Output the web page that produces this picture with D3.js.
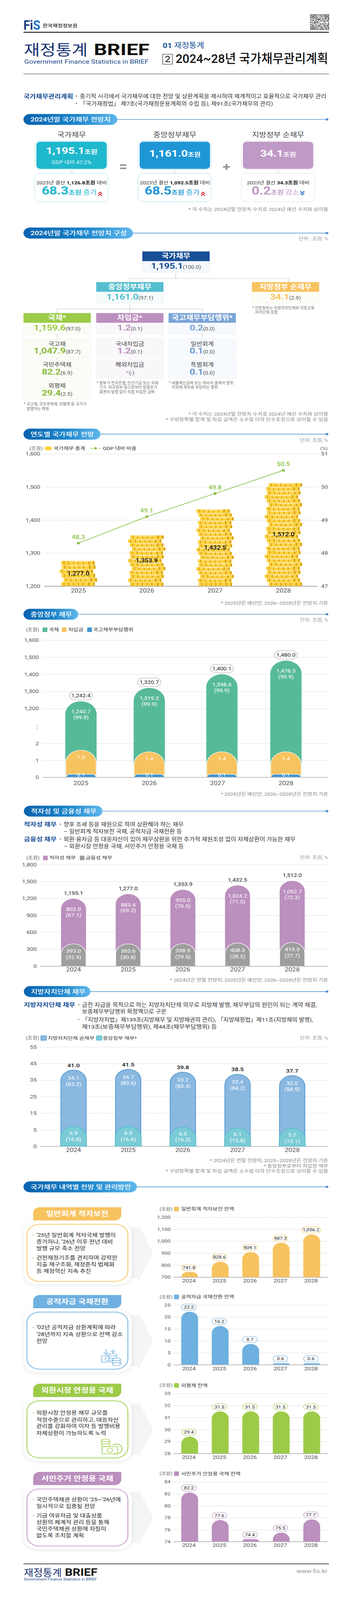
<!DOCTYPE html>
<html lang="ko">
<head>
<meta charset="utf-8">
<title>재정통계 BRIEF</title>
<script src="https://cdn.jsdelivr.net/npm/d3@7"></script>
<style>
  html, body { margin: 0; padding: 0; background: #fff; overflow: hidden; }
  svg { display: block; }
  text { font-family: Roboto, "Noto Sans CJK KR", sans-serif; }
  .card { filter: drop-shadow(0 3px 6px rgba(0,0,0,.09)); }
</style>
</head>
<body>
<svg id="page" width="900" height="4957" viewBox="0 0 900 4957" preserveAspectRatio="none"></svg>
<script>
// ---- data ----
var years5 = ["2024", "2025", "2026", "2027", "2028"];
var years4 = ["2025", "2026", "2027", "2028"];

var debtTotal = [1277.0, 1353.9, 1432.5, 1512.0];
var gdpRatio = [48.3, 49.1, 49.8, 50.5];

var centralTotal = [1242.4, 1320.7, 1400.1, 1480.0];
var centralBonds = [1240.7, 1319.2, 1398.6, 1478.5];
var centralBondShare = [99.9, 99.9, 99.9, 99.9];
var centralLoans = [1.5, 1.4, 1.4, 1.4];
var centralTreasury = [0.1, 0.1, 0.1, 0.1];

var natureTotal = [1195.1, 1277.0, 1353.9, 1432.5, 1512.0];
var deficitDebt = [802.0, 883.4, 955.0, 1024.2, 1092.7];
var deficitShare = [67.1, 69.2, 70.5, 71.5, 72.3];
var financialDebt = [393.0, 393.6, 398.9, 408.3, 419.3];
var financialShare = [32.9, 30.8, 29.5, 28.5, 27.7];

var localTotal = [41.0, 41.5, 39.8, 38.5, 37.7];
var localNet = [34.1, 34.7, 33.2, 32.4, 32.0];
var localNetShare = [83.2, 83.6, 83.4, 84.2, 84.9];
var localCentral = [6.9, 6.9, 6.5, 6.1, 5.7];
var localCentralShare = [16.8, 16.6, 16.3, 15.8, 15.1];

var deficitBalance = [741.8, 828.6, 909.1, 987.3, 1056.2];
var publicFundBalance = [22.2, 16.2, 8.7, 0.6, 0.6];
var fxBalance = [29.4, 31.5, 31.5, 31.5, 31.5];
var housingBalance = [82.2, 77.6, 74.4, 75.5, 77.7];

var debtTicks = [1200, 1300, 1400, 1500, 1600];
var ratioTicks = [47, 48, 49, 50, 51];
var centralTicks = [0, 1, 2, 1200, 1300, 1400, 1500, 1600];
var natureTicks = [0, 300, 600, 900, 1200, 1500, 1800];
var localTicks = [0, 5, 15, 25, 35, 45, 55];
var deficitTicks = [700, 800, 900, 1000, 1100, 1200];
var fundTicks = [0, 5, 10, 15, 20, 25];
var fxTicks = [28, 29, 30, 31, 32, 33];
var housingTicks = [74, 76, 78, 80, 82, 84];

var NAVY = "#174f97", YELLOW = "#f7c35f", SKY = "#6eb0e0", LIME = "#9ccb48", PURPLE = "#bb8fbe";
var fmt1 = d3.format(",.1f");

var svg = d3.select("#page");
// browsers can cap the window below the page height: keep the whole page inside it
svg.attr("height", Math.min(4957, window.innerHeight || 4957));
var defs = svg.append("defs");
var grad = defs.append("linearGradient").attr("id", "pillGrad");
grad.append("stop").attr("offset", "0").attr("stop-color", "#0a62ad");
grad.append("stop").attr("offset", "0.55").attr("stop-color", "#1a84cb");
grad.append("stop").attr("offset", "1").attr("stop-color", "#5fb8ec");

// squeeze a text to a measured width
function fit(el, x, len) {
  var k = len / el.node().getComputedTextLength();
  el.attr("transform", "translate(" + x + ",0) scale(" + k + ",1) translate(" + (-x) + ",0)");
  return el;
}

// text helper, y is the vertical middle of the line
function t(x, y, str, o) {
  o = o || {};
  var el = (o.to || svg).append("text")
    .attr("x", x).attr("y", y).attr("dy", "0.36em")
    .attr("font-size", o.size || 14)
    .attr("font-weight", o.weight || 400)
    .attr("fill", o.fill || "#333")
    .attr("text-anchor", o.anchor || "start")
    .text(str);
  if (o.len) fit(el, x, o.len);
  return el;
}

// mixed run of tspans
function rich(x, y, parts, anchor) {
  var el = svg.append("text").attr("x", x).attr("y", y).attr("dy", "0.36em")
    .attr("text-anchor", anchor || "middle");
  parts.forEach(function (p) {
    el.append("tspan").text(p.t)
      .attr("font-size", p.size).attr("font-weight", p.weight || 400)
      .attr("fill", p.fill || "#333")
      .attr("letter-spacing", p.spacing || null);
  });
  return el;
}

function section(x, top, w, label, textW) {
  var h = 34;
  svg.append("line").attr("x1", x + w - 4).attr("x2", 836).attr("y1", top + h / 2).attr("y2", top + h / 2)
    .attr("stroke", "#5d9bd2").attr("stroke-width", 2);
  svg.append("circle").attr("cx", 836).attr("cy", top + h / 2).attr("r", 3.5).attr("fill", "#4f8fcb");
  svg.append("rect").attr("x", x).attr("y", top).attr("width", w).attr("height", h)
    .attr("rx", 17).attr("fill", "url(#pillGrad)");
  t(x + 18, top + h / 2, label, { size: 18, fill: "#fff", weight: 500, len: textW });
}

function note(y, str) {
  t(839, y, str, { size: 13.5, fill: "#888", anchor: "end" });
}

function unit(y) {
  t(839, y, "단위: 조원, %", { size: 13.5, fill: "#999", anchor: "end" });
}

// rounded-top bar from d3.path
function arch(cx, w, top, bottom) {
  var r = Math.min(w / 2, bottom - top), x0 = cx - w / 2, x1 = cx + w / 2;
  var p = d3.path();
  p.moveTo(x0, bottom);
  p.lineTo(x0, top + r);
  p.arcTo(x0, top, x0 + r, top, r);
  p.lineTo(x1 - r, top);
  p.arcTo(x1, top, x1, top + r, r);
  p.lineTo(x1, bottom);
  p.closePath();
  return p.toString();
}

// left axis with the ticks running across as dotted grid lines, the base line solid
function yAxis(scale, ticks, x0, x1, size, pad, base) {
  var g = svg.append("g").attr("transform", "translate(" + x0 + ",0)")
    .call(d3.axisLeft(scale).tickValues(ticks).tickSize(-(x1 - x0)).tickPadding(pad).tickFormat(d3.format(",")));
  g.select(".domain").remove();
  g.selectAll(".tick line").attr("stroke", "#aaa").attr("stroke-dasharray", "1 1.5");
  g.selectAll(".tick text").attr("font-size", size).attr("fill", "#555");
  g.selectAll(".tick").filter(function (d) { return d === base; }).select("line")
    .attr("stroke", "#999").attr("stroke-dasharray", null).attr("stroke-width", 1.5);
  return g;
}

function xAxis(scale, y, size, pad) {
  var g = svg.append("g").attr("transform", "translate(0," + y + ")")
    .call(d3.axisBottom(scale).tickSize(0).tickPadding(pad));
  g.select(".domain").remove();
  g.selectAll(".tick text").attr("font-size", size).attr("fill", "#555");
}

function legendBox(x, y, w, fill, label, textX, stroke) {
  svg.append("rect").attr("x", x).attr("y", y - 7).attr("width", w).attr("height", 14)
    .attr("fill", fill).attr("stroke", stroke || "none").attr("stroke-width", stroke ? 1.5 : 0);
  t(textX, y, label, { size: 14 });
}

function valuePill(cx, cy, w, h, label, stroke, size) {
  svg.append("rect").attr("x", cx - w / 2).attr("y", cy - h / 2).attr("width", w).attr("height", h)
    .attr("rx", h / 2).attr("fill", "#fff").attr("stroke", stroke).attr("stroke-width", size > 14 ? 2 : 1.2);
  t(cx, cy, label, { size: size, anchor: "middle", fill: "#222" });
}

// ---- masthead ----
(function masthead() {
  var logo = t(60, 78, "", { size: 40, weight: 700 });
  logo.append("tspan").text("F").attr("fill", "#14387f");
  logo.append("tspan").text("i").attr("fill", "#14387f");
  logo.append("tspan").text("S").attr("fill", "#1b6fc0");
  fit(logo, 60, 43);
  t(109, 80, "한국재정정보원", { size: 14, weight: 500, fill: "#222", len: 89 });

  // small QR-like block
  var n = 31, s = 1.5, qx = 794.5, qy = 45.5;
  svg.append("rect").attr("x", qx - 1).attr("y", qy - 1).attr("width", 47).attr("height", 47)
    .attr("fill", "#fff").attr("stroke", "#555");
  function finder(i, j) { return i >= 0 && j >= 0 && i < 7 && j < 7; }
  d3.range(n).forEach(function (i) {
    d3.range(n).forEach(function (j) {
      var ci = i > n - 8 ? i - (n - 7) : i, cj = j > n - 8 ? j - (n - 7) : j;
      var on;
      if (finder(i, j) || finder(i - (n - 7), j) || finder(i, j - (n - 7))) {
        on = ci === 0 || ci === 6 || cj === 0 || cj === 6 || (ci > 1 && ci < 5 && cj > 1 && cj < 5);
      } else {
        on = ((i * i + j * 3 + (i ^ j)) % 5) < 2;
      }
      if (on) svg.append("rect").attr("x", qx + 0.25 + i * s).attr("y", qy + 0.25 + j * s)
        .attr("width", s).attr("height", s).attr("fill", "#222");
    });
  });

  svg.append("line").attr("x1", 60).attr("x2", 841).attr("y1", 100).attr("y2", 100).attr("stroke", "#111").attr("stroke-width", 2.5);
  t(61, 154, "재정통계", { size: 46, fill: "#17326f", len: 163 });
  t(240, 153, "BRIEF", { size: 50, weight: 700, fill: "#111", len: 142 });
  t(62, 191, "Government Finance Statistics in BRIEF", { size: 17.5, fill: "#1c4a8c", len: 318 });

  fit(rich(416, 143, [
    { t: "01 ", size: 23, weight: 700, fill: NAVY },
    { t: "재정통계", size: 23, fill: NAVY }
  ], "start"), 416, 106);
  svg.append("rect").attr("x", 416).attr("y", 168).attr("width", 25).attr("height", 31)
    .attr("fill", "#fff").attr("stroke", "#222").attr("stroke-width", 1.2);
  t(428.5, 183.5, "2", { size: 26, anchor: "middle", fill: "#111" });
  t(449, 181, "2024~28년 국가채무관리계획", { size: 38, fill: "#111", weight: 500, len: 390 });
  svg.append("line").attr("x1", 60).attr("x2", 841).attr("y1", 229).attr("y2", 229).attr("stroke", "#333").attr("stroke-width", 1.2);

  t(60, 298, "국가채무관리계획", { size: 18, weight: 700, fill: NAVY, len: 127 });
  t(193, 298, "•", { size: 14 });
  t(204, 298, "중기적 시각에서 국가채무에 대한 전망 및 상환계획을 제시하여 체계적이고 효율적으로 국가채무 관리", { size: 16, len: 630 });
  t(193, 321, "•", { size: 14 });
  t(204, 321, "「국가재정법」 제7조(국가재정운용계획의 수립 등), 제91조(국가채무의 관리)", { size: 16, len: 494 });
})();

// ---- summary cards ----
var sumTitles = ["국가채무", "중앙정부채무", "지방정부 순채무"];
var sumValues = ["1,195.1", "1,161.0", "34.1"];
var sumPrev = ["1,126.8", "1,092.5", "34.3"];
var sumDelta = ["68.3", "68.5", "0.2"];
var sumWord = ["증가", "증가", "감소"];

section(60, 353, 240, "2024년말 국가채무 전망치", 205);

(function summary() {
  var xs = [93, 357, 621], cols = ["#1fb8cd", "#1e96d6", "#c09ac6"], mids = [177, 440, 704], chev = [256, 519, 773];
  sumTitles.forEach(function (name, i) {
    var x = xs[i], cx = x + 90;
    t(cx, 418, name, { size: 20, anchor: "middle", fill: "#444" });
    svg.append("rect").attr("x", x - 4).attr("y", 436).attr("width", 187).attr("height", 89).attr("rx", 12)
      .attr("fill", "none").attr("stroke", cols[i]).attr("stroke-dasharray", "1 1.5");
    svg.append("rect").attr("x", x).attr("y", 439).attr("width", 180).attr("height", 84).attr("rx", 10).attr("fill", cols[i]);
    rich(cx, i === 0 ? 471 : 480, [
      { t: sumValues[i], size: 30, weight: 700, fill: "#fff", spacing: "-0.5" },
      { t: "조원", size: 18, weight: 700, fill: "#fff" }
    ]);
    if (i === 0) t(cx, 503, "GDP 대비 47.2%", { size: 14.5, anchor: "middle", fill: "#e3f6f8" });
    svg.append("rect").attr("x", cx - 4).attr("y", 525).attr("width", 8).attr("height", 12).attr("fill", "#f1f4f8");
    svg.append("rect").attr("x", x - 4).attr("y", 537).attr("width", 187).attr("height", 88).attr("rx", 12)
      .attr("fill", "#fff").attr("stroke", cols[i]).attr("stroke-dasharray", "1 1.5");
    rich(cx, 565, [
      { t: "2023년 결산 ", size: 14 },
      { t: sumPrev[i] + "조원", size: 14, weight: 700, fill: "#111" },
      { t: " 대비", size: 14 }
    ]);
    rich(mids[i], 597, [
      { t: sumDelta[i], size: 35, weight: 700, fill: cols[i], spacing: "-0.5" },
      { t: "조원 ", size: 18, weight: 700, fill: cols[i] },
      { t: sumWord[i], size: 19, fill: cols[i] }
    ]);
    var up = sumWord[i] === "증가", cy = 599;
    [-4.5, 1.5].forEach(function (dy) {
      var p = d3.path(), dir = up ? -1 : 1, y = cy + dy + (up ? 4 : 0);
      p.moveTo(chev[i] - 5, y - dir * 2);
      p.lineTo(chev[i], y + dir * 3);
      p.lineTo(chev[i] + 5, y - dir * 2);
      svg.append("path").attr("d", p.toString()).attr("fill", "none")
        .attr("stroke", up ? "#d0303a" : "#2a6fc0").attr("stroke-width", 2.6);
    });
  });
  // = and +
  svg.append("rect").attr("x", 307).attr("y", 509).attr("width", 16).attr("height", 5).attr("fill", "#999");
  svg.append("rect").attr("x", 307).attr("y", 519).attr("width", 16).attr("height", 5).attr("fill", "#999");
  svg.append("rect").attr("x", 570).attr("y", 514.5).attr("width", 18).attr("height", 5).attr("fill", "#999");
  svg.append("rect").attr("x", 576.5).attr("y", 508).attr("width", 5).attr("height", 18).attr("fill", "#999");
})();
note(649, "* 각 수치는 2024년말 전망치 수치로 2024년 예산 수치와 상이함");

// ---- composition tree ----
section(60, 705, 280, "2024년말 국가채무 전망치 구성", 246);
t(839, 739, "단위 : 조원, %", { size: 13.5, fill: "#999", anchor: "end" });

(function tree() {
  function link(pts) {
    svg.append("path").attr("d", d3.line()(pts)).attr("fill", "none").attr("stroke", "#d5d5d5").attr("stroke-width", 1.6);
  }
  link([[449.5, 845], [449.5, 863]]);
  link([[332, 874], [332, 863], [738, 863], [738, 874]]);
  link([[332, 940], [332, 970]]);
  link([[146, 970], [146, 957], [517, 957], [517, 970]]);
  link([[146, 1035], [146, 1180]]);
  link([[332, 1035], [332, 1115]]);
  link([[517, 1035], [517, 1115]]);

  function head(x, y, name, val, share, col, tint) {
    var w = 172;
    svg.append("rect").attr("x", x).attr("y", y + 29).attr("width", w).attr("height", 36)
      .attr("fill", tint).attr("stroke", "#ddd").attr("stroke-dasharray", "1 1.5");
    svg.append("rect").attr("x", x).attr("y", y).attr("width", w).attr("height", 30).attr("fill", col);
    t(x + w / 2, y + 14, name, { size: 20, weight: 700, fill: "#fff", anchor: "middle" });
    rich(x + w / 2, y + 48, [
      { t: val, size: 25, weight: 700, fill: col, spacing: "-0.5" },
      { t: "(" + share + ")", size: 14.5, fill: "#555" }
    ]);
  }
  function leaf(x, y, name, val, share, col, tint) {
    svg.append("rect").attr("x", x).attr("y", y).attr("width", 172).attr("height", 59)
      .attr("fill", tint).attr("stroke", "#ddd").attr("stroke-dasharray", "1 1.5");
    t(x + 86, y + 16, name, { size: 16, anchor: "middle", fill: "#444" });
    rich(x + 86, y + 41, [
      { t: val, size: 25, weight: 700, fill: col, spacing: "-0.5" },
      { t: "(" + share + ")", size: 14.5, fill: "#555" }
    ]);
  }

  head(364, 779, "국가채무", "1,195.1", "100.0", "#174f97", "#f5f8fc");
  head(246, 874, "중앙정부채무", "1,161.0", "97.1", "#55bece", "#f6fbfc");
  head(644, 874, "지방정부 순채무", "34.1", "2.9", "#f7c35f", "#fefcf6");
  head(60, 970, "국채*", "1,159.6", "97.0", "#9ccb48", "#fafcf5");
  head(246, 970, "차입금*", "1.2", "0.1", "#bb8fbe", "#faf7fb");
  head(431, 970, "국고채무부담행위*", "0.2", "0.0", "#7aa4d6", "#f6f9fd");

  var rows = [1049, 1114, 1179];
  ["국고채", "국민주택채", "외평채"].forEach(function (n, i) {
    leaf(60, rows[i], n, ["1,047.9", "82.2", "29.4"][i], ["87.7", "6.9", "2.5"][i], "#8dbb3f", "#fafcf5");
  });
  ["국내차입금", "해외차입금"].forEach(function (n, i) {
    leaf(246, rows[i], n, ["1.2", "-"][i], ["0.1", "-"][i], "#bb8fbe", "#faf7fb");
  });
  ["일반회계", "특별회계"].forEach(function (n, i) {
    leaf(431, rows[i], n, "0.1", "0.0", "#6f9ad0", "#f6f9fd");
  });

  function n(x, y, str, len) { t(x, y, str, { size: 12.5, fill: "#777", len: len }); }
  n(645, 954, "* 지방정부는 지방자치단체와 지방교육", 159);
  n(652, 967, "자치단체 포함", 58);
  n(247, 1186, "* 정부가 한국은행, 민간기금 또는 국제", 158);
  n(254, 1200, "기구, 외국정부 등으로부터 법정유가", 148);
  n(254, 1214, "증권의 발행 없이 직접 차입한 금액", 141);
  n(432, 1186, "* 세출예산금액 또는 계속비 총액의 범위", 165);
  n(439, 1200, "이외에 채무를 부담하는 행위", 118);
  n(61, 1252, "* 국고채, 국민주택채, 외평채 등 국가가", 160);
  n(68, 1266, "발행하는 채권", 57);
})();
note(1283, "* 각 수치는 2024년말 전망치 수치로 2024년 예산 수치와 상이함");
note(1300, "* 구성항목별 합계 및 차감 금액은 소수점 이하 단수조정으로 상이할 수 있음");

// ---- yearly outlook: coin stacks and GDP line ----
section(60, 1328, 197, "연도별 국가채무 전망", 162);
unit(1364);

(function coins() {
  var x = d3.scaleBand().domain(years4).range([113, 812]);
  var y = d3.scaleLinear().domain([1200, 1600]).range([1816, 1406]);
  var yR = d3.scaleLinear().domain([47, 51]).range([1816, 1406]);

  t(75, 1389, "(조원)", { size: 13.5, fill: "#666" });
  svg.append("rect").attr("x", 114).attr("y", 1383).attr("width", 19).attr("height", 12).attr("rx", 6).attr("fill", "#ffd23f");
  t(137, 1389, "국가채무 총계", { size: 14 });
  svg.append("line").attr("x1", 231).attr("x2", 257).attr("y1", 1389).attr("y2", 1389)
    .attr("stroke", "#8dc34a").attr("stroke-width", 2).attr("stroke-dasharray", "7 3");
  svg.append("circle").attr("cx", 244).attr("cy", 1389).attr("r", 3.5).attr("fill", "#8dc34a");
  t(263, 1389, "GDP 대비 비중", { size: 14 });
  t(838, 1389, "(%)", { size: 13.5, fill: "#666", anchor: "end" });

  yAxis(y, debtTicks, 113, 812, 15.5, 10, 1200);
  var right = svg.append("g").attr("transform", "translate(812,0)")
    .call(d3.axisRight(yR).tickValues(ratioTicks).tickSize(0).tickPadding(9).tickFormat(d3.format("d")));
  right.select(".domain").remove();
  right.selectAll(".tick text").attr("font-size", 15.5).attr("fill", "#555");

  svg.append("line").attr("x1", 113).attr("x2", 812).attr("y1", 1816).attr("y2", 1816).attr("stroke", "#aaa").attr("stroke-width", 2);
  xAxis(x, 1816, 17, 8);

  var shift = [-1, 5, 0, -5, 1];
  debtTotal.forEach(function (v, i) {
    var cx = x(years4[i]) + x.bandwidth() / 2;
    var h = y(1200) - y(v);
    var rows = Math.round(h / 12.2), ch = h / rows;
    var g = svg.append("g");
    d3.range(rows).forEach(function (r) {
      var left = cx + shift[(r + i * 2) % 5] - 43, top = y(1200) - (r + 1) * ch;
      g.append("rect").attr("x", left).attr("y", top + 0.4).attr("width", 86).attr("height", ch - 0.8)
        .attr("rx", 3).attr("fill", "#ffd23f");
      d3.range(7).forEach(function (s) {
        g.append("rect").attr("x", left + 6 + s * 12.2 + (s > 4 ? 2 : 0)).attr("y", top + 1)
          .attr("width", s > 4 ? 4 : 2.4).attr("height", ch - 2).attr("fill", "#d8a417");
      });
      if (r > 0) {
        g.append("rect").attr("x", left + 10 + (r % 3) * 6).attr("y", top + 2).attr("width", 52).attr("height", 1.2).attr("fill", "#fff");
      }
    });
    t(cx, (y(1200) + y(v)) / 2, fmt1(v), { size: 17, weight: 500, fill: "#111", anchor: "middle" });
  });

  var line = d3.line().x(function (d, i) { return x(years4[i]) + x.bandwidth() / 2; }).y(function (d) { return yR(d); });
  svg.append("path").attr("d", line(gdpRatio)).attr("fill", "none").attr("stroke", "#8dc34a").attr("stroke-width", 2);
  gdpRatio.forEach(function (v, i) {
    var cx = x(years4[i]) + x.bandwidth() / 2;
    svg.append("circle").attr("cx", cx).attr("cy", yR(v)).attr("r", 4).attr("fill", "#8dc34a");
    t(cx, yR(v) - 19, v.toFixed(1), { size: 17, weight: 500, fill: "#8dc34a", anchor: "middle" });
  });
})();
note(1868, "* 2025년은 예산안, 2026~2028년은 전망치 기준");

// ---- central government debt ----
section(60, 1886, 140, "중앙정부 채무", 106);
unit(1921);

(function central() {
  var x = d3.scaleBand().domain(years4).range([119.6, 818.4]);
  // broken axis: 0-2 is stretched, 1,200-1,600 sits above the break
  var y = d3.scaleLinear().domain([0, 2, 1200, 1600]).range([2408, 2303, 2195, 1983]);

  t(66, 1951, "(조원)", { size: 13.5, fill: "#666" });
  legendBox(109, 1951, 12, "#57ba97", "국채", 125);
  legendBox(158, 1951, 12, "#f7c35f", "차입금", 174.5);
  legendBox(223, 1951, 12, "#3e96d2", "국고채무부담행위", 238);

  yAxis(y, centralTicks, 109, 839, 15.5, 9.5, 0);
  xAxis(x, 2408, 17, 12);
  d3.range(3).forEach(function (i) {
    svg.append("circle").attr("cx", 95).attr("cy", 2245 + i * 6).attr("r", 1).attr("fill", "#555");
  });

  // the 2027 column sits a little right of its label in the original
  var nudge = [0, 0, 11, 0];
  years4.forEach(function (yr, i) {
    var cx = x(yr) + x.bandwidth() / 2 + nudge[i], top = y(centralTotal[i]);
    svg.append("path").attr("d", arch(cx, 80, top, y(0))).attr("fill", "#57ba97");
    var st = centralLoans[i] + centralTreasury[i];
    svg.append("path").attr("d", arch(cx, 78, y(st), y(0))).attr("fill", "#f7c35f").attr("stroke", "#fff").attr("stroke-width", 1.6);
    svg.append("path").attr("d", arch(cx, 77, y(centralTreasury[i]) - 4, y(0))).attr("fill", "#3e96d2").attr("stroke", "#fff").attr("stroke-width", 1.6);
    svg.append("line").attr("x1", cx - 40).attr("x2", cx + 40).attr("y1", y(0)).attr("y2", y(0)).attr("stroke", "#999").attr("stroke-width", 1.5);
    valuePill(cx, top - 17.5, 59, 26, fmt1(centralTotal[i]), "#ccc", 15);
    t(cx, top + 32, fmt1(centralBonds[i]), { size: 15, fill: "#fff", anchor: "middle" });
    t(cx, top + 50, "(" + centralBondShare[i].toFixed(1) + ")", { size: 15, fill: "#fff", anchor: "middle" });
    t(cx, y(st) + 22, centralLoans[i].toFixed(1), { size: 15, fill: "#fff", anchor: "middle" });
    t(cx, y(0) - 7, centralTreasury[i].toFixed(1), { size: 15, fill: "#fff", anchor: "middle" });
  });
})();
note(2460, "* 2025년은 예산안, 2026~2028년은 전망치 기준");

// ---- deficit / financial debt ----
section(61, 2496, 201, "적자성 및 금융성 채무", 168);

t(61, 2554, "적자성 채무", { size: 17, weight: 700, fill: NAVY, len: 84 });
t(152, 2554, "•", { size: 13 });
t(162.5, 2554, "향후 조세 등을 재원으로 하여 상환해야 하는 채무", { size: 16, len: 307 });
t(163, 2576, "– 일반회계 적자보전 국채, 공적자금 국채전환 등", { size: 16, len: 302 });
t(61, 2600, "금융성 채무", { size: 17, weight: 700, fill: NAVY, len: 84 });
t(152, 2600, "•", { size: 13 });
t(162.5, 2600, "외환·융자금 등 대응자산이 있어 채무상환을 위한 추가적 재원조성 없이 자체상환이 가능한 채무", { size: 16, len: 593 });
t(163, 2622, "– 외환시장 안정용 국채, 서민주거 안정용 국채 등", { size: 16, len: 307 });

(function nature() {
  var x = d3.scaleBand().domain(years5).range([118.1, 817]);
  var y = d3.scaleLinear().domain([0, 1800]).range([2993, 2678.6]);

  t(67, 2658, "(조원)", { size: 13.5, fill: "#666" });
  legendBox(110, 2658, 12, PURPLE, "적자성 채무", 126);
  legendBox(204, 2658, 12, "#9e9e9e", "금융성 채무", 219);
  unit(2656);

  yAxis(y, natureTicks, 102, 839, 15.5, 8, 0);
  xAxis(x, 2993, 17, 5);

  years5.forEach(function (yr, i) {
    var cx = x(yr) + x.bandwidth() / 2, top = y(natureTotal[i]);
    svg.append("path").attr("d", arch(cx, 64, top, y(0))).attr("fill", PURPLE);
    var topF = y(financialDebt[i]);
    svg.append("path").attr("d", arch(cx, 64, topF, y(0))).attr("fill", "#9e9e9e").attr("stroke", "#fff").attr("stroke-width", 1.6);
    svg.append("line").attr("x1", cx - 33).attr("x2", cx + 33).attr("y1", y(0)).attr("y2", y(0)).attr("stroke", "#999").attr("stroke-width", 1.5);
    t(cx, top - 17, fmt1(natureTotal[i]), { size: 15, fill: "#222", anchor: "middle" });
    t(cx, top + 33, fmt1(deficitDebt[i]), { size: 15, fill: "#fff", anchor: "middle" });
    t(cx, top + 51, "(" + deficitShare[i].toFixed(1) + ")", { size: 15, fill: "#fff", anchor: "middle" });
    t(cx, topF + 22, financialDebt[i].toFixed(1), { size: 15, fill: "#fff", anchor: "middle" });
    t(cx, topF + 41, "(" + financialShare[i].toFixed(1) + ")", { size: 15, fill: "#fff", anchor: "middle" });
  });
})();
note(3036, "* 2024년은 연말 전망치, 2025년은 예산안, 2026~2028년은 전망치 기준");

// ---- local government debt ----
section(61, 3055, 170, "지방자치단체 채무", 139);

t(61, 3113, "지방자치단체 채무", { size: 17, weight: 700, fill: NAVY, len: 131 });
t(199, 3113, "•", { size: 13 });
t(209.5, 3113, "금전 지급을 목적으로 하는 지방자치단체 의무로 지방채 발행, 채무부담의 원인이 되는 계약 체결,", { size: 16, len: 600 });
t(209.5, 3134, "보증채무부담행위 확정액으로 구분", { size: 16, len: 216 });
t(199, 3159, "•", { size: 13 });
t(209.5, 3159, "「지방자치법」제139조(지방채무 및 지방채권의 관리), 「지방재정법」제11조(지방채의 발행),", { size: 16, len: 590 });
t(209.5, 3181, "제13조(보증채무부담행위), 제44조(채무부담행위) 등", { size: 16, len: 345 });

(function local() {
  var x = d3.scaleBand().domain(years5).range([118.1, 817]);
  var y = d3.scaleLinear().domain([0, 5, 55]).range([3551, 3500, 3243.6]);

  t(66, 3216, "(조원)", { size: 13.5, fill: "#666" });
  legendBox(104.5, 3216, 14, "#8ab8e0", "지방자치단체 순채무", 122, "#4f9ad6");
  legendBox(246.5, 3216, 14, "#7acbd6", "중앙정부 채무*", 263, "#55bece");
  unit(3215);

  yAxis(y, localTicks, 102, 839, 15.5, 8, 0);
  xAxis(x, 3551, 17, 6);

  years5.forEach(function (yr, i) {
    var cx = x(yr) + x.bandwidth() / 2, top = y(localTotal[i]);
    svg.append("path").attr("d", arch(cx, 65, top, y(0))).attr("fill", "#8ab8e0").attr("stroke", "#3e8fce").attr("stroke-width", 1.6);
    var topC = y(localCentral[i]);
    svg.append("path").attr("d", arch(cx, 66.5, topC, y(0))).attr("fill", "#7acbd6").attr("stroke", "#4fb9c8").attr("stroke-width", 1.6);
    t(cx, top - 15, localTotal[i].toFixed(1), { size: 16, weight: 500, fill: "#111", anchor: "middle" });
    t(cx, top + 24, localNet[i].toFixed(1), { size: 15, fill: "#fff", anchor: "middle" });
    t(cx, top + 43, "(" + localNetShare[i].toFixed(1) + ")", { size: 15, fill: "#fff", anchor: "middle" });
    t(cx, topC + 20, localCentral[i].toFixed(1), { size: 15, fill: "#fff", anchor: "middle" });
    t(cx, topC + 39, "(" + localCentralShare[i].toFixed(1) + ")", { size: 15, fill: "#fff", anchor: "middle" });
  });
})();
note(3596, "* 2024년은 연말 전망치, 2025~2028년은 전망치 기준");
note(3612, "* 중앙정부로부터 차입한 채무");
note(3628, "* 구성항목별 합계 및 차감 금액은 소수점 이하 단수조정으로 상이할 수 있음");

// ---- outlook by item ----
section(60, 3660, 290, "국가채무 내역별 전망 및 관리방안", 257);

function panel(top, title, color, bulletColor, lines) {
  svg.append("path").attr("fill", "#f5f5f5")
    .attr("d", d3.line()([[330, top + 62], [353, top + 62], [353, top + 52], [391, top + 142], [353, top + 233], [353, top + 220], [330, top + 220]]));
  var h = d3.path(), x0 = 85, x1 = 310, r = 17, b = top + 41;
  h.moveTo(x0, b);
  h.lineTo(x0, top + r);
  h.arcTo(x0, top, x0 + r, top, r);
  h.lineTo(x1, top);
  h.lineTo(x1, b - r);
  h.arcTo(x1, b, x1 - r, b, r);
  h.closePath();
  svg.append("path").attr("d", h.toString()).attr("fill", color);
  t(197.5, top + 20, title, { size: 21, weight: 700, fill: "#fff", anchor: "middle" });
  svg.append("rect").attr("class", "card").attr("x", 61).attr("y", top + 45).attr("width", 276).attr("height", 195)
    .attr("rx", 36).attr("fill", "#fff");
  svg.append("rect").attr("x", 69).attr("y", top + 53).attr("width", 258).attr("height", 177)
    .attr("rx", 32).attr("fill", "none").attr("stroke", color).attr("stroke-width", 2);
  lines.forEach(function (l) {
    if (l.bullet) t(83, l.y, "•", { size: 12, fill: bulletColor });
    t(93, l.y, l.text, { size: 15.5, fill: "#222" });
  });
}

panel(3740, "일반회계 적자보전", YELLOW, "#c78b25", [
  { y: 3826, text: "’25년 일반회계 적자국채 발행이", bullet: true },
  { y: 3847, text: "증가하나, ’26년 이후 전년 대비" },
  { y: 3867, text: "발행 규모 축소 전망" },
  { y: 3896, text: "건전재정기조를 견지하며 강력한", bullet: true },
  { y: 3917, text: "지출 재구조화, 재정준칙 법제화" },
  { y: 3937, text: "등 재정혁신 지속 추진" }
]);
panel(4012, "공적자금 국채전환", SKY, "#2f86c8", [
  { y: 4112, text: "’02년 공적자금 상환계획에 따라", bullet: true },
  { y: 4133, text: "’28년까지 지속 상환으로 잔액 감소" },
  { y: 4154, text: "전망" }
]);
panel(4287, "외환시장 안정용 국채", LIME, "#7fb030", [
  { y: 4377, text: "외환시장 안정용 채무 규모를", bullet: true },
  { y: 4398, text: "적정수준으로 관리하고, 대응자산" },
  { y: 4418, text: "관리를 강화하여 이자 등 발행비용" },
  { y: 4439, text: "자체상환이 가능하도록 노력" }
]);
panel(4560, "서민주거 안정용 국채", PURPLE, "#9a6ba0", [
  { y: 4645, text: "국민주택채권 상환이 ’25~’26년에", bullet: true },
  { y: 4666, text: "일시적으로 집중될 전망" },
  { y: 4695, text: "기금 여유자금 및 대출상품", bullet: true },
  { y: 4716, text: "상환의 체계적 관리 등을 통해" },
  { y: 4736, text: "국민주택채권 상환에 차질이" },
  { y: 4757, text: "없도록 조치할 계획" }
]);

// small outline icons in the panels
function coinIcon(x, y, col) {
  d3.range(3).forEach(function (i) {
    svg.append("ellipse").attr("cx", x).attr("cy", y + i * 7).attr("rx", 11).attr("ry", 4.5)
      .attr("fill", "#fff").attr("stroke", col).attr("stroke-width", 1.6);
  });
}
function billIcon(x, y, w, h, col) {
  svg.append("rect").attr("x", x).attr("y", y).attr("width", w).attr("height", h).attr("fill", "#fff").attr("stroke", col).attr("stroke-width", 1.6);
  svg.append("circle").attr("cx", x + w / 2).attr("cy", y + h / 2).attr("r", h / 3.2).attr("fill", "none").attr("stroke", col).attr("stroke-width", 1.6);
}
billIcon(260, 4200, 30, 20, SKY);
coinIcon(288, 4198, SKY);
coinIcon(298, 4212, SKY);
svg.append("path").attr("fill", "none").attr("stroke", SKY).attr("stroke-width", 1.6)
  .attr("d", "M271 4180V4194M265 4189L271 4197L277 4189M289 4180V4189M284 4185L289 4191L294 4185");
billIcon(261, 4482, 40, 22, LIME);
coinIcon(270, 4463, LIME);
svg.append("path").attr("fill", "none").attr("stroke", LIME).attr("stroke-width", 2)
  .attr("d", "M288 4478C302 4466 316 4482 311 4494C308 4502 300 4505 291 4505");

function itemChart(values, ticks, color, legend, baseY, topY) {
  var x = d3.scaleBand().domain(years5).range([444, 834]);
  var y = d3.scaleLinear().domain([ticks[0], ticks[ticks.length - 1]]).range([baseY, topY]);
  var legendY = topY - 25;
  t(408, legendY, "(조원)", { size: 13, fill: "#666" });
  legendBox(445, legendY, 12.5, color, legend, 463);
  yAxis(y, ticks, 444, 839, 14, 8, ticks[0]);
  xAxis(x, baseY, 15.5, 6);
  years5.forEach(function (yr, i) {
    var cx = x(yr) + x.bandwidth() / 2 + 2, top = y(values[i]);
    svg.append("path").attr("d", arch(cx, 43, top, baseY)).attr("fill", color);
    var label = fmt1(values[i]);
    valuePill(cx - 2, top - 14, label.length > 5 ? 49 : 37.5, 19, label, color, 13);
  });
}
itemChart(deficitBalance, deficitTicks, YELLOW, "일반회계 적자보전 잔액", 3956.6, 3771);
itemChart(publicFundBalance, fundTicks, SKY, "공적자금 국채전환 잔액", 4228, 4043);
itemChart(fxBalance, fxTicks, LIME, "외평채 잔액", 4503, 4317);
itemChart(housingBalance, housingTicks, PURPLE, "서민주거 안정용 국채 잔액", 4776, 4590.6);

// ---- footer ----
svg.append("line").attr("x1", 60).attr("x2", 841).attr("y1", 4845).attr("y2", 4845).attr("stroke", "#111").attr("stroke-width", 2);
t(61, 4872, "재정통계", { size: 30, fill: "#17326f", len: 97 });
t(166, 4871, "BRIEF", { size: 32, weight: 700, fill: "#111", len: 83 });
t(61, 4893, "Government Finance Statistics in BRIEF", { size: 11, fill: "#1c4a8c", len: 187 });
t(837, 4867, "www.fis.kr", { size: 17, fill: "#999", anchor: "end" });
</script>
</body>
</html>
